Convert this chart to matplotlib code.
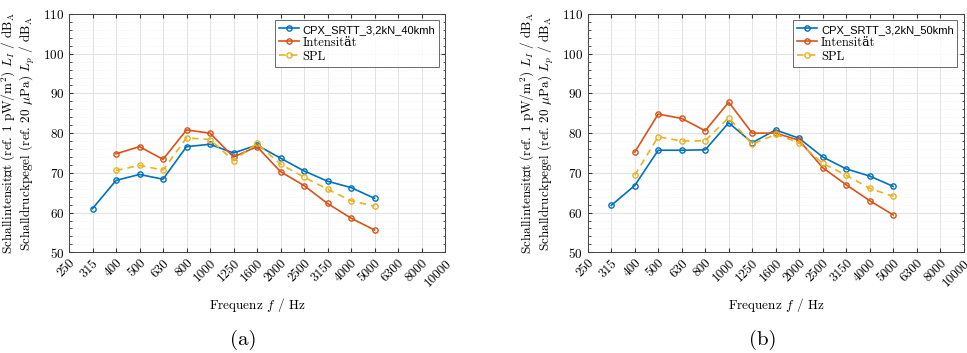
import matplotlib
matplotlib.use("Agg")
import matplotlib.pyplot as plt
import numpy as np

plt.rcParams["font.family"] = ["cmr10", "DejaVu Serif"]
plt.rcParams["mathtext.fontset"] = "cm"
plt.rcParams["axes.unicode_minus"] = False
plt.rcParams["axes.formatter.use_mathtext"] = True

freq_labels = ["250", "315", "400", "500", "630", "800", "1000", "1250", "1600",
               "2000", "2500", "3150", "4000", "5000", "6300", "8000", "10000"]

# 40 km/h measurement
freq_a = ["315", "400", "500", "630", "800", "1000", "1250", "1600",
          "2000", "2500", "3150", "4000", "5000"]
cpx_40 = [61.0, 68.1, 69.6, 68.4, 76.6, 77.2, 75.0, 77.0, 73.7, 70.5, 67.9, 66.3, 63.6]
freq_i = ["400", "500", "630", "800", "1000", "1250", "1600",
          "2000", "2500", "3150", "4000", "5000"]
int_40 = [74.8, 76.6, 73.4, 80.8, 80.0, 74.0, 76.6, 70.3, 66.8, 62.3, 58.6, 55.6]
spl_40 = [70.6, 71.9, 70.7, 78.8, 78.4, 73.1, 77.4, 72.2, 68.9, 65.9, 63.0, 61.6]

# 50 km/h measurement
cpx_50 = [61.8, 66.8, 75.7, 75.7, 75.8, 82.6, 77.6, 80.8, 78.7, 74.0, 71.0, 69.2, 66.6]
int_50 = [75.2, 84.8, 83.7, 80.6, 87.8, 80.0, 80.0, 78.2, 71.3, 67.0, 63.0, 59.4]
spl_50 = [69.4, 79.1, 78.0, 78.1, 83.9, 77.2, 79.7, 77.6, 72.4, 69.4, 66.1, 64.1]

c_blue = "#0072BD"
c_orange = "#D95319"
c_yellow = "#EDB120"

fig = plt.figure(figsize=(9.67, 3.53), dpi=100)
W, H = 967.0, 353.0


def idx(labels):
    return [freq_labels.index(s) for s in labels]


def panel(left_px, cpx, inten, spl, name, caption, cap_x):
    ax = fig.add_axes([left_px / W, (H - 252.3) / H, 376 / W, (252.3 - 14) / H])
    mk = dict(marker="o", markersize=3.8, markerfacecolor="none", markeredgewidth=1.0)
    ax.plot(idx(freq_a), cpx, color=c_blue, lw=1.2, label=name, **mk)
    ax.plot(idx(freq_i), inten, color=c_orange, lw=1.2, label="Intensität", **mk)
    ax.plot(idx(freq_i), spl, color=c_yellow, lw=1.2, ls=(0, (4, 3)), label="SPL", **mk)

    ax.set_xlim(0, len(freq_labels) - 1)
    ax.set_ylim(50, 110)
    ax.set_xticks(range(len(freq_labels)))
    ax.set_xticklabels(freq_labels, rotation=45, ha="right", va="top",
                       rotation_mode="anchor", fontsize=9.5)
    ax.set_yticks(np.arange(50, 111, 10))
    ax.set_yticks(np.arange(50, 111, 2), minor=True)
    ax.tick_params(axis="y", labelsize=9.5)
    ax.tick_params(which="both", direction="in", top=True, right=True,
                   color="#333333", length=3)
    ax.tick_params(which="minor", length=1.8)
    ax.tick_params(axis="x", which="minor", bottom=False, top=False)
    ax.grid(True, which="major", color="#e2e2e2", lw=0.7)
    ax.grid(True, which="minor", axis="y", color="#efefef", lw=0.6, ls=":")
    ax.set_axisbelow(True)
    for sp in ax.spines.values():
        sp.set_color("#444444")
        sp.set_linewidth(0.7)

    ax.set_xlabel(r"Frequenz $f$ / Hz", fontsize=9.5, labelpad=5)
    ax.set_ylabel("Schallintensität (ref. 1 pW/m$^2$) $L_I$ / dB$_\\mathrm{A}$\n"
                  "Schalldruckpegel (ref. 20 $\\mu$Pa) $L_p$ / dB$_\\mathrm{A}$",
                  fontsize=9.5, labelpad=4, linespacing=1.0)

    leg = ax.legend(loc="upper right", fontsize=9, frameon=True, fancybox=False,
                    borderpad=0.3, handlelength=1.6, handletextpad=0.3,
                    labelspacing=0.15, borderaxespad=0.5)
    leg.get_frame().set_edgecolor("#444444")
    leg.get_frame().set_linewidth(0.7)
    leg.get_texts()[0].set_fontfamily("Liberation Sans")
    leg.get_texts()[0].set_fontsize(8)

    fig.text(cap_x / W, 1 - 340 / H, caption, ha="center", va="center", fontsize=15)
    return ax


panel(69, cpx_40, int_40, spl_40, "CPX_SRTT_3,2kN_40kmh", "(a)", 243)
panel(587.7, cpx_50, int_50, spl_50, "CPX_SRTT_3,2kN_50kmh", "(b)", 763)

fig.savefig("out.png", dpi=100)
